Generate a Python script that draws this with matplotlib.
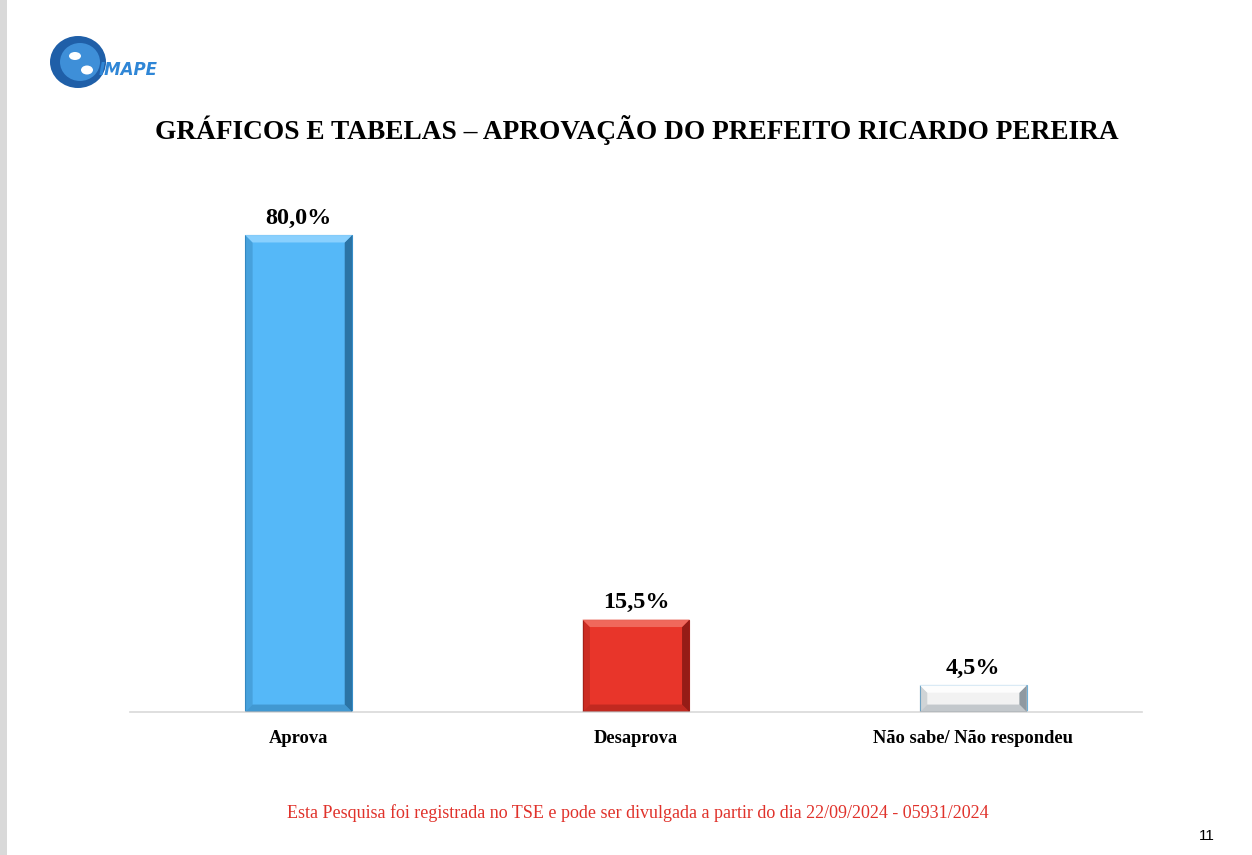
import matplotlib
matplotlib.use("Agg")
import matplotlib.pyplot as plt
from matplotlib.patches import Polygon, Rectangle, Ellipse
import numpy as np

categories = ["Aprova", "Desaprova", "Não sabe/ Não respondeu"]
values = [80.0, 15.5, 4.5]
labels = ["80,0%", "15,5%", "4,5%"]
title = "GRÁFICOS E TABELAS – APROVAÇÃO DO PREFEITO RICARDO PEREIRA"
footer = "Esta Pesquisa foi registrada no TSE e pode ser divulgada a partir do dia 22/09/2024 - 05931/2024"

face = ["#55B8F8", "#E8352A", "#F2F2F2"]
dark = ["#1E5E8A", "#7A1410", "#6E7C86"]
light = ["#8FD3FF", "#F26E62", "#FFFFFF"]
edge = ["#3A93CF", "#B5231A", "#6FB0D8"]

W, H = 1252, 855
fig = plt.figure(figsize=(W / 100, H / 100), dpi=100)
serif = ["Liberation Serif", "DejaVu Serif"]

# page strip on left
fig.patches.append(Rectangle((0, 0), 7 / W, 1, transform=fig.transFigure,
                             facecolor="#D9D9D9", edgecolor="none"))

ax = fig.add_axes([130 / W, (H - 712) / H, 1012 / W, 536.6 / H])
x = np.arange(len(categories))
bw = 0.317
ax.set_xlim(-0.5, 2.5)
ax.set_ylim(0, 90)
bars = ax.bar(x, values, width=bw, color=face, edgecolor=edge, linewidth=0.8, zorder=2)

bx = 0.022  # bevel width in data x
by = 1.25   # bevel height in data y
for i, (xi, v) in enumerate(zip(x, values)):
    l, r = xi - bw / 2, xi + bw / 2
    b_y = min(by, v * 0.3)
    ax.add_patch(Polygon([(r, 0), (r, v), (r - bx, v - b_y), (r - bx, b_y)],
                         closed=True, facecolor=dark[i], edgecolor="none", alpha=0.75, zorder=3))
    ax.add_patch(Polygon([(l, 0), (l, v), (l + bx, v - b_y), (l + bx, b_y)],
                         closed=True, facecolor=dark[i], edgecolor="none", alpha=0.25, zorder=3))
    ax.add_patch(Polygon([(l, v), (r, v), (r - bx, v - b_y), (l + bx, v - b_y)],
                         closed=True, facecolor=light[i], edgecolor="none", alpha=0.9, zorder=3))
    ax.add_patch(Polygon([(l, 0), (r, 0), (r - bx, b_y), (l + bx, b_y)],
                         closed=True, facecolor=dark[i], edgecolor="none", alpha=0.35, zorder=3))
    ax.text(xi, v + 1.1, labels[i], ha="center", va="bottom", fontsize=17.4,
            fontweight="bold", family=serif, color="black")

for s in ["top", "right", "left"]:
    ax.spines[s].set_visible(False)
ax.spines["bottom"].set_color("#D9D9D9")
ax.spines["bottom"].set_linewidth(1.2)
ax.set_yticks([])
ax.set_xticks(x)
ax.set_xticklabels(categories, fontsize=13.3, fontweight="bold", family=serif)
ax.tick_params(axis="x", length=0, pad=13)

fig.text(637 / W, 1 - 130 / H, title, ha="center", va="center", fontsize=19.7,
         fontweight="bold", family=serif)
fig.text(638 / W, 1 - 813 / H, footer, ha="center", va="center", fontsize=13,
         family=serif, color="#E0322B")
fig.text(1207 / W, 1 - 836 / H, "11", ha="center", va="center", fontsize=11,
         family=["Liberation Sans", "DejaVu Sans"], color="black")

# logo approximation
lax = fig.add_axes([45 / W, 1 - 92 / H, 130 / W, 60 / H])
lax.set_xlim(0, 130)
lax.set_ylim(0, 60)
lax.axis("off")
lax.add_patch(Ellipse((33, 30), 56, 52, facecolor="#1F5FA8", edgecolor="none"))
lax.add_patch(Ellipse((35, 30), 40, 38, facecolor="#3E8FD8", edgecolor="none"))
lax.add_patch(Ellipse((30, 36), 12, 8, facecolor="white", edgecolor="none"))
lax.add_patch(Ellipse((42, 22), 12, 9, facecolor="white", edgecolor="none"))
lax.text(54, 22, "IMAPE", fontsize=12, fontstyle="italic", fontweight="bold",
         color="#2F86D6", family=["DejaVu Sans"], va="center", ha="left")

fig.savefig("out.png", dpi=100, facecolor="white")
